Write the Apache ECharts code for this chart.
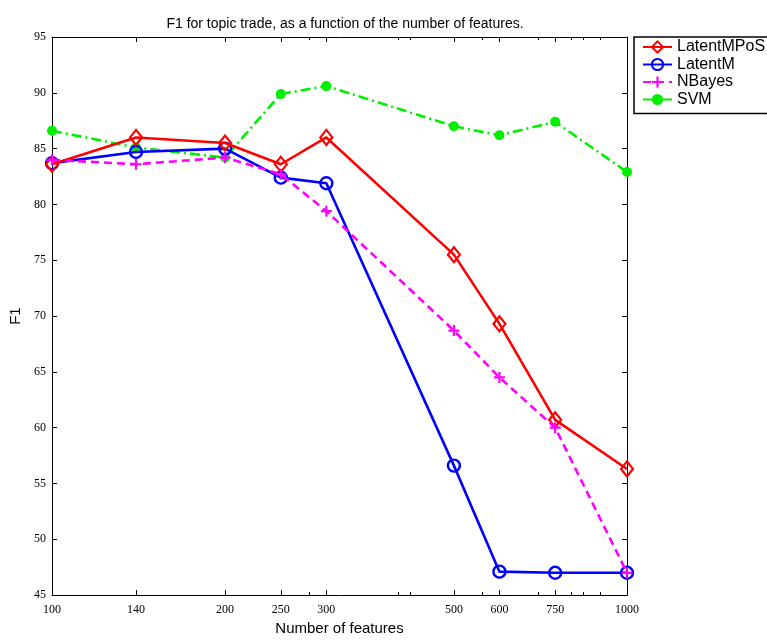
<!DOCTYPE html>
<html>
<head>
<meta charset="utf-8">
<script src="https://cdn.jsdelivr.net/npm/echarts@6/dist/echarts.min.js"></script>
<style>html,body{margin:0;padding:0;background:#fff}#c{width:767px;height:641px}</style>
</head>
<body>
<div id="c"></div>
<script>
var features = [100, 140, 200, 250, 300, 500, 600, 750, 1000];
var xTickLabels = [100, 140, 200, 250, 300, 500, 600, 750, 1000];
var xMinorTicks = [280, 400, 420, 560, 700, 800, 840, 900];
var yTicks = [45, 50, 55, 60, 65, 70, 75, 80, 85, 90, 95];
var latentMPoS = [83.6, 86.0, 85.5, 83.6, 86.0, 75.5, 69.3, 60.7, 56.3];
var latentM    = [83.7, 84.7, 85.0, 82.4, 81.9, 56.6, 47.1, 47.0, 47.0];
var nBayes     = [84.0, 83.6, 84.2, 82.7, 79.4, 68.7, 64.5, 60.0, 47.0];
var svm        = [86.6, 85.1, 84.2, 89.9, 90.6, 87.0, 86.2, 87.4, 82.9];

function pairs(ys) { return features.map(function (x, i) { return [x, ys[i]]; }); }

var serif = 'Liberation Serif';
var sans = 'Liberation Sans';
var plus = 'path://M4,0H6V4H10V6H6V10H4V6H0V4H4Z';

function xAx(pos, ticks, len, showLine, showLabel) {
  return {
    type: 'log', logBase: 10, min: 100, max: 1000, position: pos,
    axisLine: { show: showLine, lineStyle: { color: '#000', width: 1 } },
    axisTick: { show: true, inside: true, length: len, customValues: ticks, lineStyle: { color: '#000' } },
    axisLabel: { show: showLabel, customValues: xTickLabels, fontFamily: serif, fontSize: 12, color: '#000', margin: 9,
      formatter: function (v) { return String(Math.round(v)); } },
    splitLine: { show: false }, minorTick: { show: false }
  };
}
function yAx(pos, showLabel) {
  return {
    type: 'value', min: 45, max: 95, interval: 5, position: pos,
    axisLine: { show: true, lineStyle: { color: '#000', width: 1 } },
    axisTick: { show: true, inside: true, length: 5, lineStyle: { color: '#000' } },
    axisLabel: { show: showLabel, fontFamily: serif, fontSize: 12, color: '#000', margin: 6 },
    splitLine: { show: false }
  };
}

var xa0 = xAx('bottom', xTickLabels, 5, true, true);
xa0.name = 'Number of features';
xa0.nameLocation = 'middle';
xa0.nameGap = 25;
xa0.nameTextStyle = { fontFamily: sans, fontSize: 15, color: '#000' };
var ya0 = yAx('left', true);
ya0.name = 'F1';
ya0.nameLocation = 'middle';
ya0.nameGap = 26;
ya0.nameTextStyle = { fontFamily: sans, fontSize: 15, color: '#000' };

var chart = echarts.init(document.getElementById('c'), null, { renderer: 'canvas' });
chart.setOption({
  backgroundColor: '#fff',
  animation: false,
  title: {
    text: 'F1 for topic trade, as a function of the number of features.',
    left: 340, textAlign: 'center', top: 12,
    textStyle: { fontFamily: sans, fontSize: 14, fontWeight: 'normal', color: '#000' }
  },
  grid: { left: 52, right: 140, top: 37, bottom: 41, show: false, containLabel: false },
  xAxis: [
    xa0,
    xAx('top', xTickLabels, 5, true, false),
    xAx('bottom', xMinorTicks, 3, false, false),
    xAx('top', xMinorTicks, 3, false, false)
  ],
  yAxis: [ya0, yAx('right', false)],
  legend: {
    orient: 'vertical', left: 634, top: 37,
    data: ['LatentMPoS', 'LatentM', 'NBayes', 'SVM'],
    itemWidth: 29, itemHeight: 14, itemGap: 1.5,
    padding: [2, 40, 6, 8],
    borderColor: '#000', borderWidth: 1.5,
    textStyle: { fontFamily: sans, fontSize: 16, color: '#000' }
  },
  series: [
    {
      name: 'LatentMPoS', type: 'line', data: pairs(latentMPoS),
      symbol: 'diamond', symbolSize: [12, 15],
      itemStyle: { color: 'rgba(255,255,255,0)', borderColor: '#ff0000', borderWidth: 2.2 },
      lineStyle: { color: '#ff0000', width: 2.6 }, z: 4
    },
    {
      name: 'LatentM', type: 'line', data: pairs(latentM),
      symbol: 'circle', symbolSize: 12,
      itemStyle: { color: 'rgba(255,255,255,0)', borderColor: '#0000ff', borderWidth: 2.4 },
      lineStyle: { color: '#0000ff', width: 2.6 }, z: 3
    },
    {
      name: 'NBayes', type: 'line', data: pairs(nBayes),
      symbol: plus, symbolSize: 11,
      itemStyle: { color: '#ff00ff', borderWidth: 0 },
      lineStyle: { color: '#ff00ff', width: 2.6, type: [8, 5] }, z: 5
    },
    {
      name: 'SVM', type: 'line', data: pairs(svm),
      symbol: 'circle', symbolSize: 10,
      itemStyle: { color: '#00ee00', borderWidth: 0 },
      lineStyle: { color: '#00ee00', width: 2.6, type: [10, 4, 2, 4] }, z: 2
    }
  ]
});
</script>
</body>
</html>
